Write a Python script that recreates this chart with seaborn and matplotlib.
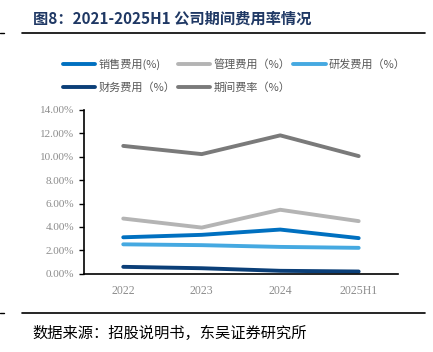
import pandas as pd
import numpy as np
import matplotlib
matplotlib.use('Agg')
import matplotlib.pyplot as plt
import seaborn as sns
from matplotlib.ticker import FuncFormatter, FixedLocator

sns.set_style('white')
plt.rcParams['font.family'] = ['Noto Sans CJK SC', 'DejaVu Sans']

# 数据
years = ['2022', '2023', '2024', '2025H1']
sales = [3.12, 3.33, 3.78, 3.05]
admin = [4.72, 3.95, 5.47, 4.50]
rnd = [2.52, 2.45, 2.30, 2.22]
finance = [0.60, 0.48, 0.26, 0.20]
period = [10.92, 10.22, 11.82, 10.05]

series_names = ['销售费用(%)', '管理费用（%）', '研发费用（%）', '财务费用（%）', '期间费率（%）']
series_vals = [sales, admin, rnd, finance, period]
colors = ['#0070c0', '#b4b4b4', '#45a9e1', '#0b3f78', '#7a7a7a']

rows = []
for name, vals in zip(series_names, series_vals):
	for i, v in enumerate(vals):
		rows.append({'x': i, 'val': v, 'series': name})
df = pd.DataFrame(rows)

fig = plt.figure(figsize=(4.33, 3.52), dpi=100)
ax = fig.add_axes([0.194, 0.222, 0.725, 0.466])

sns.lineplot(data=df, x='x', y='val', hue='series', palette=colors,
			 hue_order=series_names, linewidth=2.8, ax=ax, legend=False)

ax.set_xlim(-0.5, 3.5)
ax.set_ylim(0, 14)
ax.set_xlabel('')
ax.set_ylabel('')
ax.set_yticks(np.arange(0, 15, 2))
ax.yaxis.set_major_formatter(FuncFormatter(lambda v, p: f'{v:.2f}%'))
ax.set_xticks(range(len(years)))
ax.set_xticklabels(years)
ax.xaxis.set_minor_locator(FixedLocator([0.5, 1.5, 2.5, 3.5]))
ax.tick_params(axis='x', which='major', length=0, pad=8, labelsize=8.5, labelcolor='#8c8c8c')
ax.tick_params(axis='x', which='minor', length=3.5, direction='in', width=1, color='black')
ax.tick_params(axis='y', which='major', length=3.5, direction='out', width=1, color='black',
			   labelsize=8, labelcolor='#8c8c8c', left=True)
for lab in ax.get_xticklabels() + ax.get_yticklabels():
	lab.set_family(['Liberation Serif', 'DejaVu Serif'])
for s in ['top', 'right']:
	ax.spines[s].set_visible(False)
for s in ['left', 'bottom']:
	ax.spines[s].set_color('black')
	ax.spines[s].set_linewidth(1.2)

# 图例（按行排列）
order = [0, 3, 1, 4, 2]
handles = [plt.Line2D([], [], color=colors[i], lw=2.8, solid_capstyle='round') for i in order]
labels = [series_names[i] for i in order]
fig.legend(handles, labels, loc='upper left', bbox_to_anchor=(0.135, 0.845), ncol=3,
		   frameon=False, fontsize=8, labelcolor='#595959', handlelength=2.9,
		   handletextpad=0.3, columnspacing=0.25, labelspacing=1.05, borderaxespad=0)

# 标题与分隔线
fig.text(0.076, 0.948, '图8：2021-2025H1 公司期间费用率情况', fontsize=11, fontweight='bold',
		 color='#1f3864', va='center', ha='left',
		 family=['Noto Sans CJK SC', 'DejaVu Sans'])
for yy in [0.906, 0.111]:
	fig.add_artist(plt.Line2D([0.051, 0.982], [yy, yy], color='black', lw=1.2))
	fig.add_artist(plt.Line2D([0.0, 0.01], [yy, yy], color='black', lw=1.0))

fig.text(0.076, 0.052, '数据来源：招股说明书，东吴证券研究所', fontsize=11, color='black',
		 va='center', ha='left')

fig.savefig('out.png', dpi=100)
